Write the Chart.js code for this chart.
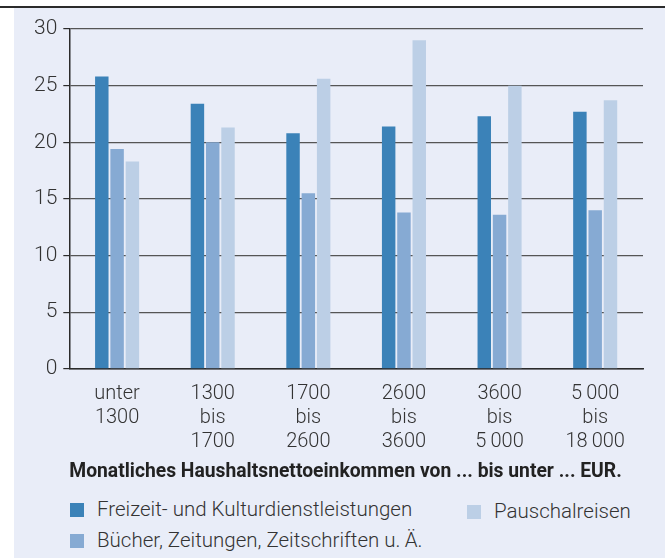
<!DOCTYPE html>
<html>
<head>
<meta charset="utf-8">
<script src="https://cdn.jsdelivr.net/npm/chart.js@4"></script>
<style>
    html, body { margin: 0; padding: 0; background: #fff; }
    body { width: 665px; height: 558px; position: relative; overflow: hidden; font-family: Roboto, sans-serif; }
    #topLine { position: absolute; left: 0; top: 6px; width: 665px; height: 2px; background: #2b2b2b; }
    #panel { position: absolute; left: 14px; top: 8px; width: 651px; height: 550px; background: #e9edf8; }
    #chartBox { position: absolute; left: 0; top: 1px; width: 651px; height: 475px; }
    .legendItem { position: absolute; font-size: 20.5px; color: #333; font-weight: 300; white-space: nowrap; }
    .legendItem span.box { position: absolute; left: 0; top: 3px; width: 14px; height: 14px; }
    .legendItem span.txt { position: absolute; left: 27px; top: -3px; }
</style>
</head>
<body>
<div id="topLine"></div>
<div id="panel">
    <div id="chartBox"><canvas id="incomeChart"></canvas></div>
    <div id="legend"></div>
</div>
<script>
// income groups (x categories)
const categories = [
    ['unter', '1300'],
    ['1300', 'bis', '1700'],
    ['1700', 'bis', '2600'],
    ['2600', 'bis', '3600'],
    ['3600', 'bis', '5\u2009000'],
    ['5\u2009000', 'bis', '18\u2009000']
];

const seriesNames = [
    'Freizeit- und Kulturdienstleistungen',
    'Bücher, Zeitungen, Zeitschriften u.\u2009Ä.',
    'Pauschalreisen'
];

// values
const freizeitValues = [25.8, 23.4, 20.8, 21.4, 22.3, 22.7];
const buecherValues = [19.4, 20.0, 15.5, 13.8, 13.6, 14.0];
const pauschalValues = [18.3, 21.3, 25.6, 29.0, 25.0, 23.7];

const yTicks = [0, 5, 10, 15, 20, 25, 30];

const xTitle = 'Monatliches Haushaltsnettoeinkommen von ... bis unter ... EUR.';

const seriesColors = ['#3b82b8', '#86aad3', '#bccfe6'];

document.addEventListener('DOMContentLoaded', () => {
    const ctx = document.getElementById('incomeChart').getContext('2d');
    const values = [freizeitValues, buecherValues, pauschalValues];

    const incomeChart = new Chart(ctx, {
        type: 'bar',
        data: {
            labels: categories,
            datasets: seriesNames.map((name, i) => ({
                label: name,
                data: values[i],
                backgroundColor: seriesColors[i],
                borderWidth: 0,
                categoryPercentage: 0.48,
                barPercentage: 0.88
            }))
        },
        options: {
            responsive: true,
            maintainAspectRatio: false,
            animation: false,
            layout: { padding: { left: 14, right: 22, top: 20, bottom: 0 } },
            plugins: {
                legend: { display: false },
                tooltip: { enabled: false }
            },
            scales: {
                x: {
                    grid: { display: false, drawTicks: false },
                    border: { display: true, color: '#2b2b2b', width: 1.5 },
                    ticks: {
                        color: '#333',
                        padding: 13,
                        maxRotation: 0,
                        autoSkip: false,
                        font: { family: 'Roboto', size: 20, weight: 300, lineHeight: 1.2 }
                    },
                    title: {
                        display: true,
                        text: xTitle,
                        align: 'start',
                        color: '#222',
                        padding: { top: -6, bottom: 0 },
                        font: { family: 'Roboto', size: 19.3, weight: 'bold' }
                    }
                },
                y: {
                    min: 0,
                    max: 30,
                    afterBuildTicks: (axis) => {
                        axis.ticks = yTicks.map(v => ({ value: v }));
                    },
                    grid: {
                        color: '#555',
                        lineWidth: 1.2,
                        drawTicks: true,
                        tickLength: 6,
                        tickColor: '#2b2b2b'
                    },
                    border: { display: true, color: '#2b2b2b', width: 1.5 },
                    ticks: {
                        color: '#333',
                        padding: 6,
                        font: { family: 'Roboto', size: 21, weight: 300 }
                    }
                }
            }
        }
    });

    // legend laid out like the original: two rows on the left, one item on the right
    const legendPos = [
        { left: 56, top: 492 },
        { left: 56, top: 523 },
        { left: 453, top: 494 }
    ];
    const legend = document.getElementById('legend');
    seriesNames.forEach((name, i) => {
        const item = document.createElement('div');
        item.className = 'legendItem';
        item.style.left = legendPos[i].left + 'px';
        item.style.top = legendPos[i].top + 'px';
        item.innerHTML = '<span class="box" style="background:' + seriesColors[i] + '"></span>'
            + '<span class="txt"></span>';
        item.querySelector('.txt').textContent = name;
        legend.appendChild(item);
    });
});
</script>
</body>
</html>
